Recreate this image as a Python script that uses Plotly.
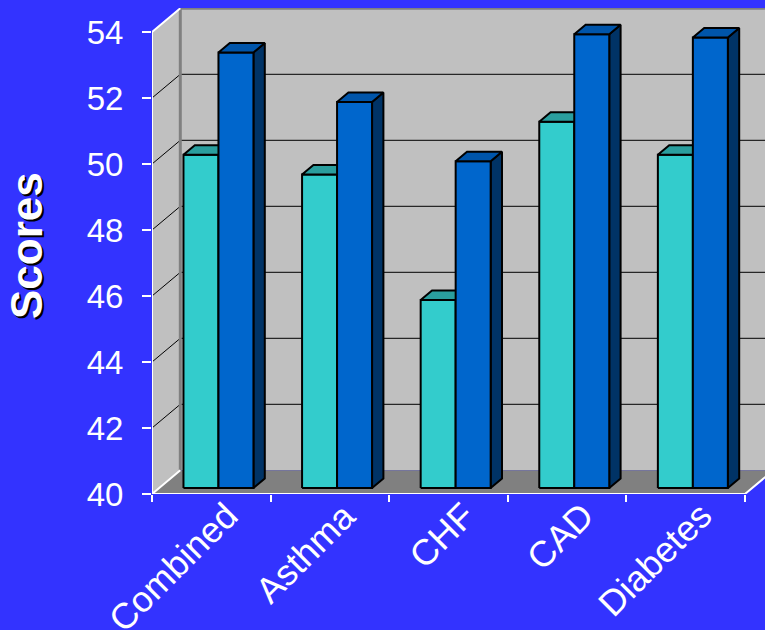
import plotly.graph_objects as go

# ---------------- data ----------------
categories = ["Combined", "Asthma", "CHF", "CAD", "Diabetes"]
series_a = [50.1, 49.5, 45.7, 51.1, 50.1]     # cyan bars
series_b = [53.2, 51.7, 49.9, 53.75, 53.65]   # blue bars
y_ticks = [40, 42, 44, 46, 48, 50, 52, 54]
y_title = "Scores"

# ---------------- geometry / style ----------------
W, H = 765, 630
ML, MR, MT, MB = 152, 0, 8, 136
plot_w = W - ML - MR
plot_h = H - MT - MB
PX_UNIT = 33.0
PX_CAT = 118.6
Y0 = y_ticks[0]
YT = y_ticks[-1]
YTOP = Y0 + plot_h / PX_UNIT
X0 = -0.5
XN = len(categories) - 0.5
XMAX = X0 + plot_w / PX_CAT
DX = 28.3 / PX_CAT          # depth offset (category units)
DY = 23.7 / PX_UNIT         # depth offset (value units)
F0, F1 = 0.253, 0.654       # bar depth (fraction)
BW = 0.295                  # bar width (category units)

BG = "#3333FF"
WALL = "#C0C0C0"
FLOOR = "#808080"
FONT = "Liberation Sans, Arial, sans-serif"
COLORS = [("#33CCCC", "#2A9E9E", "#1F7A7A"), ("#0066CC", "#0055AA", "#003366")]

fig = go.Figure()
shapes = []

def poly(pts):
    return "M " + " L ".join(f"{x},{y}" for x, y in pts) + " Z"

def line(pts):
    return "M " + " L ".join(f"{x},{y}" for x, y in pts)

# back wall
shapes.append(dict(type="path", xref="x", yref="y", layer="below", line=dict(width=0),
                   fillcolor=WALL,
                   path=poly([(X0 + DX, Y0 + DY), (XMAX + 1, Y0 + DY), (XMAX + 1, YT + DY), (X0 + DX, YT + DY)])))
# side wall
shapes.append(dict(type="path", xref="x", yref="y", layer="below", line=dict(width=0),
                   fillcolor=WALL,
                   path=poly([(X0, Y0), (X0 + DX, Y0 + DY), (X0 + DX, YT + DY), (X0, YT)])))
# floor
shapes.append(dict(type="path", xref="x", yref="y", layer="below", line=dict(width=0),
                   fillcolor=FLOOR,
                   path=poly([(X0, Y0), (XN, Y0), (XN + DX, Y0 + DY), (X0 + DX, Y0 + DY)])))
# gridlines
for t in y_ticks[1:-1]:
    shapes.append(dict(type="path", xref="x", yref="y", layer="below",
                       line=dict(color="#000000", width=1),
                       path=line([(X0, t), (X0 + DX, t + DY), (XMAX + 1, t + DY)])))
# back wall borders
shapes.append(dict(type="path", xref="x", yref="y", layer="below",
                   line=dict(color="#808080", width=3),
                   path=line([(X0 + DX, Y0 + DY), (X0 + DX, YT + DY), (XMAX + 1, YT + DY)])))
# white front edges
shapes.append(dict(type="path", xref="x", yref="y", layer="below",
                   line=dict(color="#FFFFFF", width=2),
                   path=line([(X0 + DX, YT + DY), (X0, YT), (X0, Y0), (XN, Y0), (XN + DX, Y0 + DY)])))
shapes.append(dict(type="path", xref="x", yref="y", layer="below",
                   line=dict(color="#FFFFFF", width=2),
                   path=line([(X0, Y0), (X0 + DX, Y0 + DY)])))

# bars
a, b0 = F0 * DX, F0 * DY
c, b1 = F1 * DX, F1 * DY
for i, cat in enumerate(categories):
    for s, vals in enumerate([series_a, series_b]):
        v = vals[i]
        xl = i - BW + s * BW
        xr = xl + BW
        front_c, top_c, side_c = COLORS[s]
        faces = [
            ([xr + a, xr + c, xr + c, xr + a, xr + a], [Y0 + b0, Y0 + b1, v + b1, v + b0, Y0 + b0], side_c),
            ([xl + a, xr + a, xr + a, xl + a, xl + a], [Y0 + b0, Y0 + b0, v + b0, v + b0, Y0 + b0], front_c),
            ([xl + a, xr + a, xr + c, xl + c, xl + a], [v + b0, v + b0, v + b1, v + b1, v + b0], top_c),
        ]
        for xs, ys, col in faces:
            fig.add_trace(go.Scatter(x=xs, y=ys, mode="lines", fill="toself", fillcolor=col,
                                     line=dict(color="#000000", width=2), hoverinfo="skip",
                                     showlegend=False))

annotations = []
for i, cat in enumerate(categories):
    annotations.append(dict(text=cat, xref="x", yref="paper", x=i + 0.31, y=0, yshift=2,
                            xanchor="right", yanchor="top", textangle=-45, showarrow=False,
                            font=dict(family=FONT, size=36, color="#FFFFFF")))
# y title with shadow
for dx_, col in [(2, "#000000"), (0, "#FFFFFF")]:
    annotations.append(dict(text=f"<b>{y_title}</b>", xref="paper", yref="paper",
                            x=(27 - ML) / plot_w, y=(494 - 245) / plot_h, xshift=dx_, yshift=-dx_,
                            xanchor="center", yanchor="middle", textangle=-90, showarrow=False,
                            font=dict(family=FONT, size=44, color=col)))

fig.update_layout(
    width=W, height=H, autosize=False,
    margin=dict(l=ML, r=MR, t=MT, b=MB, pad=0),
    paper_bgcolor=BG, plot_bgcolor=BG,
    shapes=shapes, annotations=annotations,
    xaxis=dict(range=[X0, XMAX], tickmode="array",
               tickvals=[X0 + k for k in range(len(categories) + 1)],
               ticktext=[""] * (len(categories) + 1),
               ticks="outside", ticklen=7, tickwidth=1.5, tickcolor="#FFFFFF",
               showgrid=False, zeroline=False, showline=False, fixedrange=True),
    yaxis=dict(range=[Y0, YTOP], tickmode="array", tickvals=y_ticks,
               ticktext=[str(t) for t in y_ticks],
               ticks="outside", ticklen=9, tickwidth=1.5, tickcolor="#FFFFFF",
               ticklabelstandoff=12,
               tickfont=dict(family=FONT, size=33, color="#FFFFFF"),
               showgrid=False, zeroline=False, showline=False, fixedrange=True),
    showlegend=False,
)

fig.write_html("out.html")
